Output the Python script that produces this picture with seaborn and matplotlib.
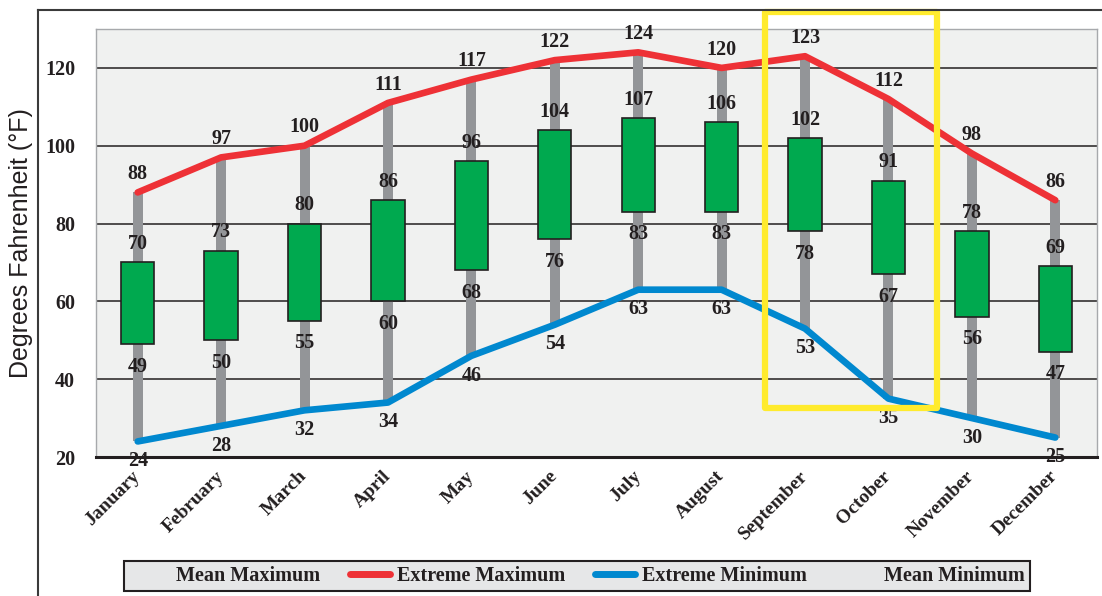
import numpy as np
import matplotlib
matplotlib.use("Agg")
import matplotlib.pyplot as plt
import seaborn as sns
from matplotlib.lines import Line2D
from matplotlib.patches import Rectangle

# data
months = ['January', 'February', 'March', 'April', 'May', 'June', 'July',
          'August', 'September', 'October', 'November', 'December']
extreme_max = [88, 97, 100, 111, 117, 122, 124, 120, 123, 112, 98, 86]
mean_max = [70, 73, 80, 86, 96, 104, 107, 106, 102, 91, 78, 69]
mean_min = [49, 50, 55, 60, 68, 76, 83, 83, 78, 67, 56, 47]
extreme_min = [24, 28, 32, 34, 46, 54, 63, 63, 53, 35, 30, 25]
yticks = [20, 40, 60, 80, 100, 120]
highlight = ['September', 'October']

plt.rcParams['font.family'] = ['Liberation Serif', 'DejaVu Serif']
DARK = '#231f20'
RED = '#ee3136'
BLUE = '#0088cf'
GREY = '#939598'
GREEN = '#00a94f'

W, H = 1102, 596
fig = plt.figure(figsize=(W / 100, H / 100), dpi=100)
ax = fig.add_axes([96 / W, 1 - 457 / H, 1001 / W, 428 / H])
ax.set_facecolor('#f0f1f0')

x = np.arange(len(months))
ext_max = np.array(extreme_max)
ext_min = np.array(extreme_min)
m_max = np.array(mean_max)
m_min = np.array(mean_min)

# grey range bars and green mean boxes
ax.bar(x, ext_max - ext_min, bottom=ext_min, width=0.12, color=GREY, zorder=2)
ax.bar(x, m_max - m_min, bottom=m_min, width=0.40, color=GREEN,
       edgecolor=DARK, linewidth=1.2, zorder=3)

sns.lineplot(x=x, y=ext_max, color=RED, linewidth=4.8, ax=ax, zorder=4,
             solid_capstyle='round')
sns.lineplot(x=x, y=ext_min, color=BLUE, linewidth=4.8, ax=ax, zorder=4,
             solid_capstyle='round')

lab = dict(textcoords='offset points', ha='center', fontsize=14.5,
           fontweight='bold', color=DARK, zorder=6)
for i in x:
    ax.annotate(str(extreme_max[i]), (i, extreme_max[i]), xytext=(0, 6),
                va='bottom', **lab)
    ax.annotate(str(mean_max[i]), (i, mean_max[i]), xytext=(0, 6),
                va='bottom', **lab)
    ax.annotate(str(mean_min[i]), (i, mean_min[i]), xytext=(0, -9),
                va='top', **lab)
    ax.annotate(str(extreme_min[i]), (i, extreme_min[i]), xytext=(0, -7),
                va='top', **lab)

ax.set_xlim(-0.5, len(months) - 0.5)
ax.set_ylim(20, 130)
ax.set_yticks(yticks)
ax.set_yticklabels([str(t) for t in yticks], fontsize=14.5, fontweight='bold',
                   color=DARK)
ax.set_xticks(x)
ax.set_xticklabels(months, rotation=45, ha='right', va='center',
                   rotation_mode='anchor', fontsize=14, fontweight='bold',
                   color=DARK)
ax.tick_params(axis='y', length=0, pad=15)
ax.tick_params(axis='x', length=0, pad=12)
ax.yaxis.grid(True, color=DARK, linewidth=1.1)
ax.set_axisbelow(True)
for s in ['left', 'top', 'right']:
    ax.spines[s].set_color('#a7a9ac')
    ax.spines[s].set_linewidth(1)
ax.spines['bottom'].set_color(DARK)
ax.spines['bottom'].set_linewidth(2.2)

ax.set_ylabel('Degrees Fahrenheit (°F)', fontsize=18, family='Liberation Sans',
              color=DARK)
ax.yaxis.set_label_coords(-63 / 1001, 0.5)

# yellow highlight box around September-October
i0 = months.index(highlight[0])
i1 = months.index(highlight[-1])
rect = Rectangle((i0 - 0.48, 32.6), (i1 - i0) + 1.06, 101.8, fill=False,
                 edgecolor='#ffeb2d', linewidth=4.5, joinstyle='round',
                 clip_on=False, zorder=7)
ax.add_patch(rect)

# outer frame lines
fig.add_artist(Line2D([38 / W, 1.0], [1 - 10 / H, 1 - 10 / H],
                      transform=fig.transFigure, color='#3a3a3a', lw=1.5))
fig.add_artist(Line2D([38 / W, 38 / W], [0, 1 - 10 / H],
                      transform=fig.transFigure, color='#3a3a3a', lw=1.5))

handles = [Line2D([], [], color='none'),
           Line2D([], [], color=RED, lw=5, solid_capstyle='round'),
           Line2D([], [], color=BLUE, lw=5, solid_capstyle='round'),
           Line2D([], [], color='none')]
labels = ['Mean Maximum', 'Extreme Maximum', 'Extreme Minimum', 'Mean Minimum']
leg = fig.legend(handles, labels, ncol=4, loc='center', mode='expand',
                 bbox_to_anchor=(114 / W, 1 - 592 / H, 926 / W, 32 / H),
                 frameon=True, fancybox=False, edgecolor=DARK,
                 facecolor='#e6e7e8', framealpha=1,
                 prop={'family': 'Liberation Serif', 'weight': 'bold', 'size': 14.5},
                 handlelength=2.0, handletextpad=0.35, columnspacing=1.6,
                 borderpad=0.25)
leg.get_frame().set_linewidth(1.5)
for t in leg.get_texts():
    t.set_color(DARK)

fig.savefig('out.png', dpi=100)
